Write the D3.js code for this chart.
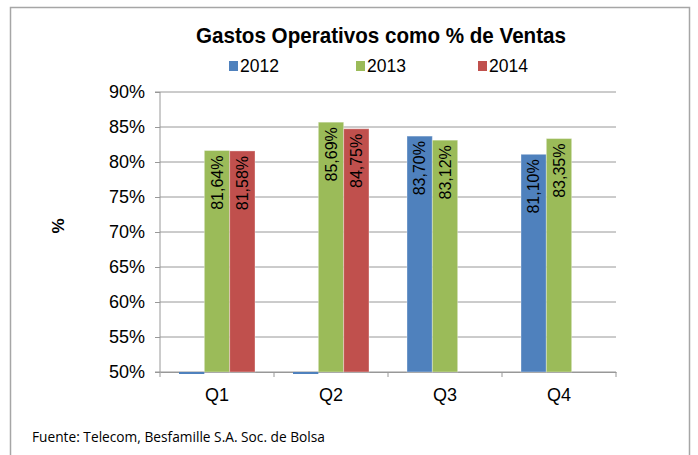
<!DOCTYPE html>
<html>
<head>
<meta charset="utf-8">
<script src="https://cdn.jsdelivr.net/npm/d3@7"></script>
<style>
  body { margin: 0; background: #fff; }
  svg { display: block; font-family: "Liberation Sans", Arial, sans-serif; }
</style>
</head>
<body>
<div id="chart"></div>
<script>
// data (percent of sales)
var quarters = ["Q1", "Q2", "Q3", "Q4"];
var years = ["2012", "2013", "2014"];
var values2012 = [0, 0, 83.70, 81.10];
var values2013 = [81.64, 85.69, 83.12, 83.35];
var values2014 = [81.58, 84.75, null, null];
var yTicks = [50, 55, 60, 65, 70, 75, 80, 85, 90];
var colors = ["#4F81BD", "#9BBB59", "#C0504D"];

var seriesValues = [values2012, values2013, values2014];

var svgWidth = 698;
var svgHeight = 455;
var fontMain = "'Liberation Sans', Arial, sans-serif";

var margin = { top: 92, right: 82, bottom: 83, left: 160 };
var width = svgWidth - margin.left - margin.right;
var height = svgHeight - margin.top - margin.bottom;

var svg = d3.select("#chart")
    .append("svg")
    .attr("width", svgWidth)
    .attr("height", svgHeight);

// outer frame
svg.append("rect")
    .attr("x", 10.5)
    .attr("y", 7.5)
    .attr("width", 679)
    .attr("height", 460)
    .attr("fill", "none")
    .attr("stroke", "#a6a6a6")
    .attr("stroke-width", 1.5);

var chartGroup = svg.append("g")
    .attr("transform", `translate(${margin.left}, ${margin.top})`);

var x0 = d3.scaleBand()
    .domain(quarters)
    .range([0, width])
    .padding(0);

var x1 = d3.scaleBand()
    .domain(years)
    .range([0, x0.bandwidth()])
    .paddingInner(0)
    .paddingOuter(0.75);

var yScale = d3.scaleLinear()
    .domain([50, 90])
    .range([height, 0]);

// gridlines
chartGroup.append("g")
    .selectAll("line")
    .data(yTicks)
    .enter()
    .append("line")
    .attr("x1", 0)
    .attr("x2", width)
    .attr("y1", d => yScale(d))
    .attr("y2", d => yScale(d))
    .attr("stroke", "#989898")
    .attr("stroke-width", 1);

// y axis
var leftAxis = d3.axisLeft(yScale)
    .tickValues(yTicks)
    .tickSize(5)
    .tickPadding(10)
    .tickFormat(d => d + "%");

var yAxis = chartGroup.append("g").call(leftAxis);
yAxis.select(".domain").attr("stroke", "#989898").attr("d", `M-5,0H0V${height}H-5`);
yAxis.selectAll(".tick line").attr("stroke", "#989898");
yAxis.selectAll(".tick text")
    .attr("font-size", 18)
    .attr("fill", "#000")
    .attr("font-family", fontMain);

// x axis
var bottomAxis = d3.axisBottom(x0).tickSize(0).tickPadding(16);
var xAxis = chartGroup.append("g")
    .attr("transform", `translate(0, ${height})`)
    .call(bottomAxis);
xAxis.select(".domain").attr("stroke", "#989898");
xAxis.selectAll(".tick text")
    .attr("font-size", 18)
    .attr("fill", "#000")
    .attr("font-family", fontMain);

// category separators below the axis
xAxis.append("g")
    .selectAll("line")
    .data(d3.range(quarters.length + 1))
    .enter()
    .append("line")
    .attr("x1", i => i * x0.step())
    .attr("x2", i => i * x0.step())
    .attr("y1", 0)
    .attr("y2", 5)
    .attr("stroke", "#989898");

// bars
var groups = chartGroup.selectAll(".quarter")
    .data(quarters)
    .enter()
    .append("g")
    .attr("class", "quarter")
    .attr("transform", d => `translate(${x0(d)}, 0)`);

var barData = function(q, qi) {
    return years.map((yr, si) => ({ year: yr, si: si, value: seriesValues[si][qi] }))
        .filter(d => d.value !== null);
};

groups.each(function(q, qi) {
    var g = d3.select(this);
    var bars = barData(q, qi);

    g.selectAll("rect")
        .data(bars)
        .enter()
        .append("rect")
        .attr("x", d => x1(d.year))
        .attr("width", x1.bandwidth())
        .attr("y", d => d.value > 50 ? yScale(d.value) : height)
        .attr("height", d => d.value > 50 ? height - yScale(d.value) : 2)
        .attr("fill", d => colors[d.si])
        .attr("stroke", d => d.value > 50 ? "rgba(255,255,255,0.35)" : "none")
        .attr("stroke-width", 1);

    g.selectAll("text")
        .data(bars.filter(d => d.value > 50))
        .enter()
        .append("text")
        .attr("transform", d => `translate(${x1(d.year) + x1.bandwidth() / 2}, ${yScale(d.value) + 5}) rotate(-90)`)
        .attr("text-anchor", "end")
        .attr("dy", "0.36em")
        .attr("font-size", 16)
        .attr("font-family", fontMain)
        .attr("fill", "#000")
        .text(d => d.value.toFixed(2).replace(".", ",") + "%");
});

// y axis title
svg.append("text")
    .attr("transform", "translate(58, 226) rotate(-90)")
    .attr("text-anchor", "middle")
    .attr("dy", "0.35em")
    .attr("font-size", 17)
    .attr("font-weight", "bold")
    .text("%");

// title
svg.append("text")
    .attr("x", 196)
    .attr("y", 43)
    .attr("font-size", 22)
    .attr("font-weight", "bold")
    .attr("textLength", 370)
    .attr("lengthAdjust", "spacingAndGlyphs")
    .text("Gastos Operativos como % de Ventas");

// legend
var legendX = [229, 356, 478];
var legend = svg.append("g")
    .selectAll("g")
    .data(years)
    .enter()
    .append("g")
    .attr("transform", (d, i) => `translate(${legendX[i]}, 66)`);

legend.append("rect")
    .attr("x", 0)
    .attr("y", -5)
    .attr("width", 9)
    .attr("height", 10)
    .attr("fill", (d, i) => colors[i]);

legend.append("text")
    .attr("x", 11)
    .attr("y", 0)
    .attr("dy", "0.36em")
    .attr("font-size", 18)
    .attr("textLength", 39)
    .attr("lengthAdjust", "spacingAndGlyphs")
    .text(d => d);

// source
svg.append("text")
    .attr("x", 32)
    .attr("y", 442)
    .attr("font-size", 14)
    .attr("font-family", "'Liberation Sans Narrow', 'Open Sans', sans-serif")
    .attr("textLength", 293)
    .attr("lengthAdjust", "spacingAndGlyphs")
    .text("Fuente: Telecom, Besfamille S.A. Soc. de Bolsa");
</script>
</body>
</html>
